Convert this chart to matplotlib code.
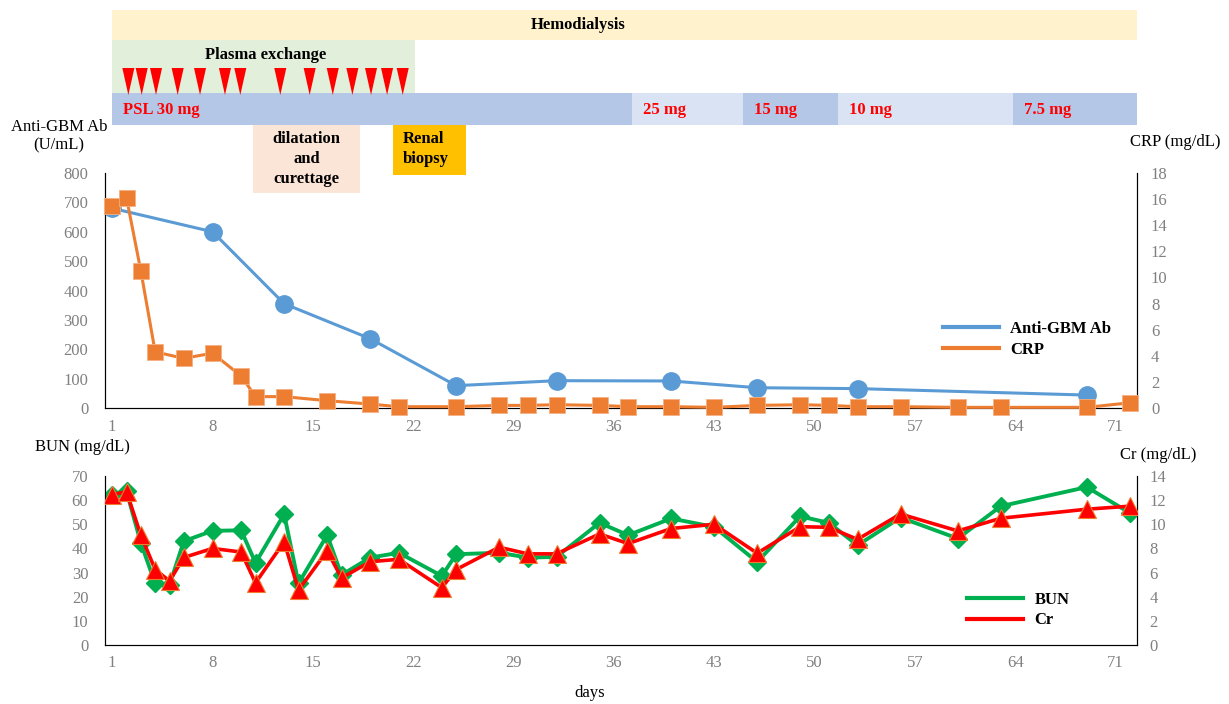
import matplotlib
matplotlib.use("Agg")
import matplotlib.pyplot as plt
from matplotlib.lines import Line2D
from matplotlib.patches import Rectangle

plt.rcParams["font.family"] = ["Liberation Serif", "DejaVu Serif"]

# ---- data (days) -------------------------------------------------------
gbm_days = [1, 8, 13, 19, 25, 32, 40, 46, 53, 69]
gbm_vals = [680, 600, 355, 236, 76, 93, 92, 69, 66, 44]

crp_days = [1, 2, 3, 4, 6, 8, 10, 11, 13, 16, 19, 21, 25, 28, 30, 32, 35, 37,
            40, 43, 46, 49, 51, 53, 56, 60, 63, 69, 72]
crp_vals = [15.5, 16.1, 10.5, 4.3, 3.8, 4.2, 2.45, 0.87, 0.87, 0.56, 0.3, 0.1,
            0.1, 0.2, 0.2, 0.25, 0.2, 0.1, 0.1, 0.05, 0.2, 0.25, 0.2, 0.1,
            0.1, 0.05, 0.05, 0.05, 0.4]

lab_days = [1, 2, 3, 4, 5, 6, 8, 10, 11, 13, 14, 16, 17, 19, 21, 24, 25, 28,
            30, 32, 35, 37, 40, 43, 46, 49, 51, 53, 56, 60, 63, 69, 72]
bun_vals = [62, 63.7, 42.3, 25.5, 24.8, 43, 47.3, 47.5, 34, 54.2, 25.5, 45.5,
            29, 36.2, 38.2, 28.6, 37.6, 38.2, 36.2, 36.5, 50.6, 45.5, 52.4,
            48.9, 34.4, 53.3, 50.6, 41.3, 52.8, 44.1, 57.5, 65.4, 54.7]
cr_vals = [12.45, 12.7, 9.1, 6.25, 5.3, 7.25, 8.0, 7.7, 5.15, 8.55, 4.55, 7.8,
           5.55, 6.9, 7.1, 4.75, 6.25, 8.1, 7.55, 7.55, 9.2, 8.4, 9.65, 10.0,
           7.6, 9.8, 9.75, 8.75, 10.85, 9.45, 10.5, 11.25, 11.5]

x_ticks = [1, 8, 15, 22, 29, 36, 43, 50, 57, 64, 71]

# treatment timeline (days)
hd_span = (1, 72.65)
pe_span = (1, 22.13)
pe_days = [2.13, 3.06, 4.06, 5.57, 7.13, 8.87, 9.94, 12.73, 14.78, 16.39,
           17.76, 19.06, 20.18, 21.27]
psl_labels = ["PSL 30 mg", "25 mg", "15 mg", "10 mg", "7.5 mg"]
psl_start = [1, 37.3, 45.0, 51.65, 63.85]
psl_end = [37.3, 45.0, 51.65, 63.85, 72.65]
dc_span = (10.83, 18.3)
rb_span = (20.6, 25.7)

BLUE, ORANGE, GREEN, RED = "#5B9BD5", "#ED7D31", "#00B050", "#FF0000"
TICK = "#808080"
XLIM = (0.5, 72.5)

fig = plt.figure(figsize=(12.29, 7.04), dpi=100)
L, W = 105 / 1229, 1032 / 1229

# ---- timeline bands (y in figure pixels, x in days) ---------------------
tl = fig.add_axes([L, 0, W, 1], zorder=0)
tl.set_xlim(*XLIM); tl.set_ylim(704, 0); tl.axis("off")

def band(ax, x0, x1, y0, y1, color):
    ax.add_patch(Rectangle((x0, y0), x1 - x0, y1 - y0, facecolor=color,
                           edgecolor="none", zorder=1))

band(tl, *hd_span, 10, 40, "#FFF2CC")
tl.text(sum(hd_span) / 2 - 3.3, 25, "Hemodialysis", ha="center", va="center",
        fontsize=12, fontweight="bold")
band(tl, *pe_span, 40, 93, "#E2EFDA")
tl.text(11.7, 55, "Plasma exchange", ha="center", va="center",
        fontsize=12, fontweight="bold")
for d in pe_days:
    tl.fill([d - 0.42, d + 0.42, d], [68, 68, 95], color=RED, lw=0, zorder=2)
for i, (lab, a, b) in enumerate(zip(psl_labels, psl_start, psl_end)):
    band(tl, a, b, 93, 125, "#B4C7E7" if i % 2 == 0 else "#DAE3F3")
    tl.text(a + 0.75, 109.5, lab, ha="left", va="center", fontsize=12,
            fontweight="bold", color=RED, zorder=3)
band(tl, *dc_span, 125, 193, "#FBE5D6")
tl.text(sum(dc_span) / 2, 159, "dilatation\nand\ncurettage", ha="center",
        va="center", fontsize=12, fontweight="bold", linespacing=1.35, zorder=3)
band(tl, *rb_span, 125, 175, "#FFC000")
tl.text(rb_span[0] + 0.7, 149, "Renal\nbiopsy", ha="left", va="center",
        fontsize=12, fontweight="bold", linespacing=1.35, zorder=3)

def style(ax, tw):
    ax.spines["top"].set_visible(False)
    ax.spines["left"].set_color("black")
    ax.spines["right"].set_color("black")
    ax.spines["bottom"].set_color("#404040")
    ax.set_facecolor("none")
    tw.spines["top"].set_visible(False)
    ax.tick_params(length=0, colors=TICK, labelsize=12)
    tw.tick_params(length=0, colors=TICK, labelsize=12)
    ax.set_xlim(*XLIM)
    ax.set_xticks(x_ticks)

def legend(handles, labels, x_px, y_px):
    fig.legend(handles, labels, loc="upper left",
               bbox_to_anchor=(x_px / 1229, 1 - y_px / 704), frameon=False,
               prop={"weight": "bold", "size": 12}, handlelength=3.35,
               handletextpad=0.7, labelspacing=0.27, borderpad=0,
               borderaxespad=0)

# ---- upper panel -------------------------------------------------------
ax1 = fig.add_axes([L, 1 - 408 / 704, W, 235 / 704], zorder=2)
tw1 = ax1.twinx()
ax1.plot(gbm_days, gbm_vals, color=BLUE, lw=2.2, marker="o", ms=12.5,
         mec=BLUE, zorder=3)
tw1.plot(crp_days, crp_vals, color=ORANGE, lw=2.2, marker="s", ms=11.5,
         mec="#F4B183", mew=0.6, zorder=3, clip_on=False)
ax1.set_ylim(0, 800); ax1.set_yticks(range(0, 801, 100))
tw1.set_ylim(0, 18); tw1.set_yticks(range(0, 19, 2))
style(ax1, tw1)
ax1.tick_params(axis="x", pad=8)
ax1.tick_params(axis="y", pad=12)
tw1.tick_params(axis="y", pad=10)

fig.text(59 / 1229, 1 - 136 / 704, "Anti-GBM Ab\n(U/mL)", ha="center",
         va="center", fontsize=12, linespacing=1.2)
fig.text(1175 / 1229, 1 - 142 / 704, "CRP (mg/dL)", ha="center",
         va="center", fontsize=12)
legend([Line2D([], [], color=BLUE, lw=3), Line2D([], [], color=ORANGE, lw=3)],
       ["Anti-GBM Ab", "CRP"], 943, 321)

# ---- lower panel -------------------------------------------------------
ax2 = fig.add_axes([L, 1 - 645 / 704, W, 169 / 704], zorder=2)
tw2 = ax2.twinx()
ax2.plot(lab_days, bun_vals, color=GREEN, lw=2.8, marker="D", ms=9.5,
         mec=GREEN, zorder=3)
tw2.plot(lab_days, cr_vals, color=RED, lw=2.6, marker="^", ms=12.5,
         mec=ORANGE, mew=0.8, zorder=3)
ax2.set_ylim(0, 70); ax2.set_yticks(range(0, 71, 10))
tw2.set_ylim(0, 14); tw2.set_yticks(range(0, 15, 2))
style(ax2, tw2)
ax2.tick_params(axis="x", pad=7)
ax2.tick_params(axis="y", pad=12)
tw2.tick_params(axis="y", pad=9)

fig.text(82 / 1229, 1 - 447 / 704, "BUN (mg/dL)", ha="center",
         va="center", fontsize=12)
fig.text(1158 / 1229, 1 - 455 / 704, "Cr (mg/dL)", ha="center",
         va="center", fontsize=12)
fig.text(590 / 1229, 1 - 693 / 704, "days", ha="center", va="center",
         fontsize=12)
legend([Line2D([], [], color=GREEN, lw=3), Line2D([], [], color=RED, lw=3)],
       ["BUN", "Cr"], 967, 592)

fig.savefig("out.png", dpi=100)
